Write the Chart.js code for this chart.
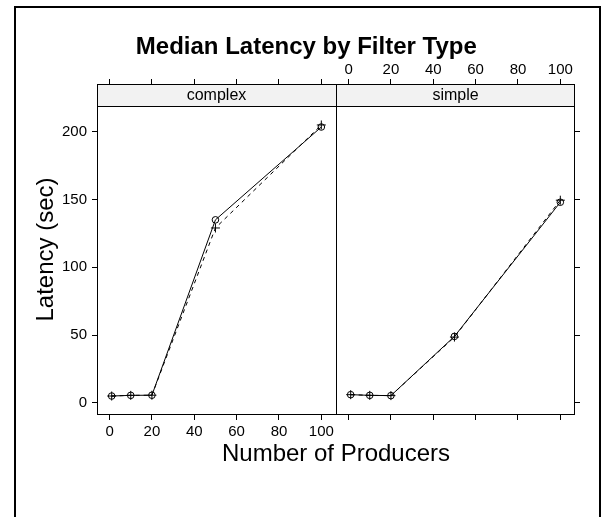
<!DOCTYPE html>
<html>
<head>
<meta charset="utf-8">
<script src="https://cdn.jsdelivr.net/npm/chart.js@4.4.1/dist/chart.umd.min.js"></script>
<style>
  html, body { margin: 0; padding: 0; background: #fff; }
  #wrap { position: relative; width: 602px; height: 517px; overflow: hidden; }
  #frame { position: absolute; left: 14px; top: 6px; width: 587px; height: 600px; border: 2px solid #000; box-sizing: border-box; }
  #chart { position: absolute; left: 0; top: 0; }
</style>
</head>
<body>
<div id="wrap">
  <div id="frame"></div>
  <canvas id="chart" width="602" height="517"></canvas>
</div>
<script>
// values
var producers = [1, 10, 20, 50, 100];
var panels = ["complex", "simple"];
var complexCircle = [5, 5.5, 5.6, 135, 203.5];
var complexPlus = [5, 5.5, 5.6, 129, 205];
var simpleCircle = [6, 5.5, 5.3, 49, 148];
var simplePlus = [6, 5.5, 5.3, 48.5, 149.5];
var xTicks = [0, 20, 40, 60, 80, 100];
var yTicks = [0, 50, 100, 150, 200];

Chart.defaults.font.family = "'Liberation Sans', Arial, sans-serif";
Chart.defaults.color = "#000";

// lattice style limits: data range padded by 7% on each side
var xMin = Math.min.apply(null, producers), xMax = Math.max.apply(null, producers);
var xLo = xMin - 0.07 * (xMax - xMin);
var xHi = xMax + 0.07 * (xMax - xMin);
var span = xHi - xLo;

var allY = complexCircle.concat(complexPlus, simpleCircle, simplePlus);
var yMin = Math.min.apply(null, allY), yMax = Math.max.apply(null, allY);
var yLo = yMin - 0.07 * (yMax - yMin);
var yHi = yMax + 0.07 * (yMax - yMin);
// room for the strip above each panel (22px of a 309px panel)
var yTop = yHi + (yHi - yLo) * 22 / 309;

var panelTicks = [];
panels.forEach(function (p, i) {
  xTicks.forEach(function (t) { panelTicks.push(t + i * span); });
});

function pts(vals, panel) {
  return producers.map(function (x, i) {
    return { x: x + panel * span, y: vals[i] };
  });
}

function series(vals, panel, style) {
  var dashed = style === "cross";
  return {
    data: pts(vals, panel),
    borderColor: "#000",
    backgroundColor: "rgba(0,0,0,0)",
    borderWidth: 1,
    borderDash: dashed ? [4, 4] : [],
    pointStyle: style,
    pointRadius: dashed ? 4.5 : 3.3,
    pointBorderWidth: 1,
    pointBorderColor: "#000",
    pointBackgroundColor: "rgba(0,0,0,0)",
    tension: 0,
    fill: false
  };
}

var panelPlugin = {
  id: "panels",
  beforeDatasetsDraw: function (chart) {
    var ctx = chart.ctx, a = chart.chartArea, x = chart.scales.x, y = chart.scales.y;
    var stripBottom = y.getPixelForValue(yHi);
    ctx.save();
    ctx.fillStyle = "#f2f2f2";
    ctx.fillRect(a.left, a.top, a.right - a.left, stripBottom - a.top);
    ctx.fillStyle = "#000";
    ctx.font = "16px 'Liberation Sans', Arial, sans-serif";
    ctx.textAlign = "center";
    ctx.textBaseline = "middle";
    panels.forEach(function (name, i) {
      var l = x.getPixelForValue(xLo + i * span);
      var r = x.getPixelForValue(xLo + (i + 1) * span);
      ctx.fillText(name, (l + r) / 2, (a.top + stripBottom) / 2 + 1);
    });
    ctx.restore();
  },
  afterDatasetsDraw: function (chart) {
    var ctx = chart.ctx, a = chart.chartArea, x = chart.scales.x, y = chart.scales.y;
    var stripBottom = Math.round(y.getPixelForValue(yHi)) + 0.5;
    ctx.save();
    ctx.strokeStyle = "#000";
    ctx.lineWidth = 1;
    ctx.strokeRect(a.left + 0.5, a.top + 0.5, a.right - a.left - 1, a.bottom - a.top - 1);
    ctx.beginPath();
    ctx.moveTo(a.left, stripBottom);
    ctx.lineTo(a.right, stripBottom);
    for (var i = 1; i < panels.length; i++) {
      var d = Math.round(x.getPixelForValue(xLo + i * span)) + 0.5;
      ctx.moveTo(d, a.top);
      ctx.lineTo(d, a.bottom);
    }
    ctx.stroke();
    ctx.restore();
  }
};

function setTicks(list) {
  return function (scale) {
    scale.ticks = list.map(function (v) { return { value: v }; });
  };
}

var tickGrid = { display: true, drawOnChartArea: false, drawTicks: true, tickLength: 5, color: "#000", tickColor: "#000", tickWidth: 1 };

new Chart(document.getElementById("chart"), {
  type: "line",
  data: {
    datasets: [
      series(complexCircle, 0, "circle"),
      series(complexPlus, 0, "cross"),
      series(simpleCircle, 1, "circle"),
      series(simplePlus, 1, "cross")
    ]
  },
  options: {
    responsive: false,
    animation: false,
    devicePixelRatio: 1,
    layout: { padding: { left: 27.6, right: 17, top: 32.6, bottom: 44 } },
    plugins: {
      legend: { display: false },
      tooltip: { enabled: false },
      title: {
        display: true,
        text: "Median Latency by Filter Type",
        color: "#000",
        font: { size: 24, weight: "bold" },
        padding: 0
      }
    },
    scales: {
      x: {
        type: "linear",
        position: "bottom",
        min: xLo,
        max: xLo + panels.length * span,
        afterBuildTicks: setTicks(panelTicks),
        afterFit: function (s) { s.height = 58; },
        grid: tickGrid,
        border: { display: false },
        ticks: {
          font: { size: 15 }, padding: 3, autoSkip: false, maxRotation: 0,
          callback: function (v) { return v < xHi ? String(Math.round(v)) : ""; }
        },
        title: { display: true, text: "Number of Producers", font: { size: 24 }, padding: { top: 4, bottom: 4 } }
      },
      x2: {
        type: "linear",
        position: "top",
        min: xLo,
        max: xLo + panels.length * span,
        afterBuildTicks: setTicks(panelTicks),
        afterFit: function (s) { s.height = 22.6; },
        grid: tickGrid,
        border: { display: false },
        ticks: {
          font: { size: 15 }, padding: 0, autoSkip: false, maxRotation: 0,
          callback: function (v) { return v > xHi ? String(Math.round(v - span)) : ""; }
        }
      },
      y: {
        type: "linear",
        position: "left",
        min: yLo,
        max: yTop,
        afterBuildTicks: setTicks(yTicks),
        afterFit: function (s) { s.width = 69.4; },
        grid: tickGrid,
        border: { display: false },
        ticks: { font: { size: 15 }, padding: 5 },
        title: { display: true, text: "Latency (sec)", font: { size: 24 }, padding: { top: 4, bottom: 4 } }
      },
      y2: {
        type: "linear",
        position: "right",
        min: yLo,
        max: yTop,
        afterBuildTicks: setTicks(yTicks),
        afterFit: function (s) { s.width = 10; },
        grid: tickGrid,
        border: { display: false },
        ticks: { callback: function () { return ""; } }
      }
    }
  },
  plugins: [panelPlugin]
});
</script>
</body>
</html>
